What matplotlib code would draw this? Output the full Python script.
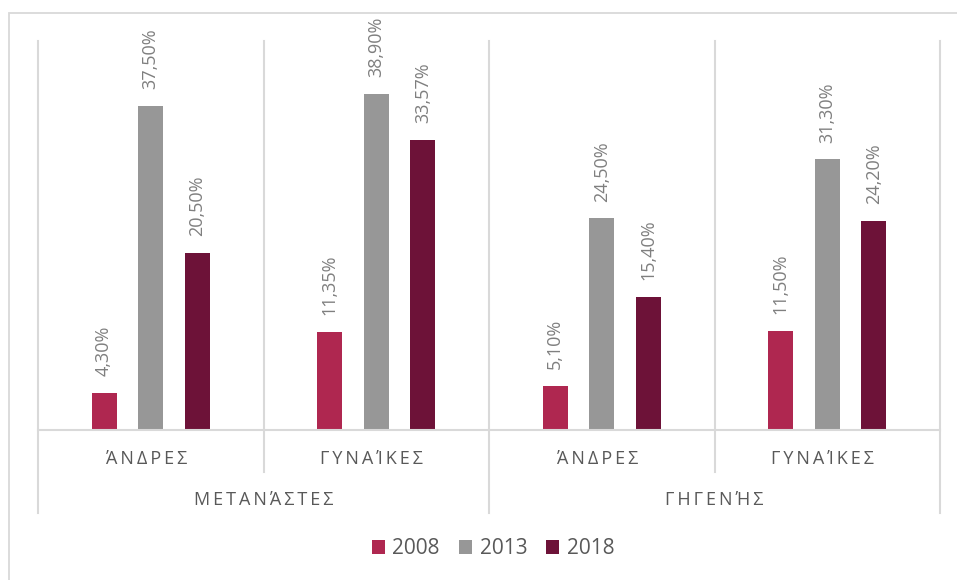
import matplotlib
matplotlib.use("Agg")
import matplotlib.pyplot as plt
import numpy as np
from matplotlib.lines import Line2D
from matplotlib.patches import Rectangle
from matplotlib.transforms import blended_transform_factory

plt.rcParams["font.family"] = ["Open Sans", "DejaVu Sans"]

# data
subgroups = ["ΆΝΔΡΕΣ", "ΓΥΝΑΊΚΕΣ", "ΆΝΔΡΕΣ", "ΓΥΝΑΊΚΕΣ"]
groups = ["ΜΕΤΑΝΆΣΤΕΣ", "ΓΗΓΕΝΉΣ"]
years = ["2008", "2013", "2018"]
v2008 = [4.30, 11.35, 5.10, 11.50]
v2013 = [37.50, 38.90, 24.50, 31.30]
v2018 = [20.50, 33.57, 15.40, 24.20]

colors = ["#AF2750", "#979797", "#6D1238"]
grid_c = "#D9D9D9"
label_c = "#7F7F7F"
text_c = "#595959"
SP = "\u2009"  # thin space for letter spacing

fig = plt.figure(figsize=(9.57, 5.8), dpi=100)
# outer chart frame (only top/left edges fall inside the image)
fig.patches.append(Rectangle((8.5 / 957, -0.1), 1.2, 1 - 12.5 / 580 + 0.1,
                             transform=fig.transFigure, fill=False,
                             edgecolor=grid_c, lw=1.3))

ax = fig.add_axes([38 / 957, 1 - 430 / 580, (940 - 38) / 957, (430 - 41) / 580])

x = np.arange(len(subgroups))
offset = 0.207
width = 0.111
for i, (vals, yr) in enumerate(zip([v2008, v2013, v2018], years)):
    bars = ax.bar(x + (i - 1) * offset, vals, width, color=colors[i], label=yr)
    for b, v in zip(bars, vals):
        ax.annotate(f"{v:.2f}".replace(".", ",") + "%",
                    (b.get_x() + b.get_width() / 2, b.get_height()),
                    xytext=(0, 12), textcoords="offset points",
                    rotation=90, ha="center", va="bottom",
                    fontsize=13, color=label_c)

ax.set_xlim(-0.5, len(subgroups) - 0.5)
ax.set_ylim(0, 45)
ax.set_xticks([])
ax.set_yticks([])
for s in ax.spines.values():
    s.set_visible(False)

trans = blended_transform_factory(ax.transData, ax.transAxes)
ax.add_line(Line2D([-0.5, len(subgroups) - 0.5], [0, 0], transform=trans,
                   color=grid_c, lw=1.5, clip_on=False))
# separators: long ones at group boundaries, short ones between subgroups
for xb in np.arange(-0.5, len(subgroups), 1.0):
    bottom = -0.213 if (xb + 0.5) % 2 == 0 else -0.108
    ax.add_line(Line2D([xb, xb], [bottom, 1], transform=trans,
                       color=grid_c, lw=1.5, clip_on=False))

for xi, name in zip(x, subgroups):
    ax.text(xi - 0.02, -0.074, SP.join(name), transform=trans, ha="center",
            va="center", fontsize=13, color=text_c)
for gi, name in enumerate(groups):
    ax.text(gi * 2 + 0.5, -0.18, SP.join(name), transform=trans,
            ha="center", va="center", fontsize=13, color=text_c)

fig.legend(loc="center", bbox_to_anchor=(493 / 957, 1 - 549 / 580), ncol=3,
           frameon=False, fontsize=15, handlelength=0.65, handleheight=0.65,
           handletextpad=0.35, columnspacing=0.9, labelcolor=text_c)

fig.savefig("out.png", dpi=100)
